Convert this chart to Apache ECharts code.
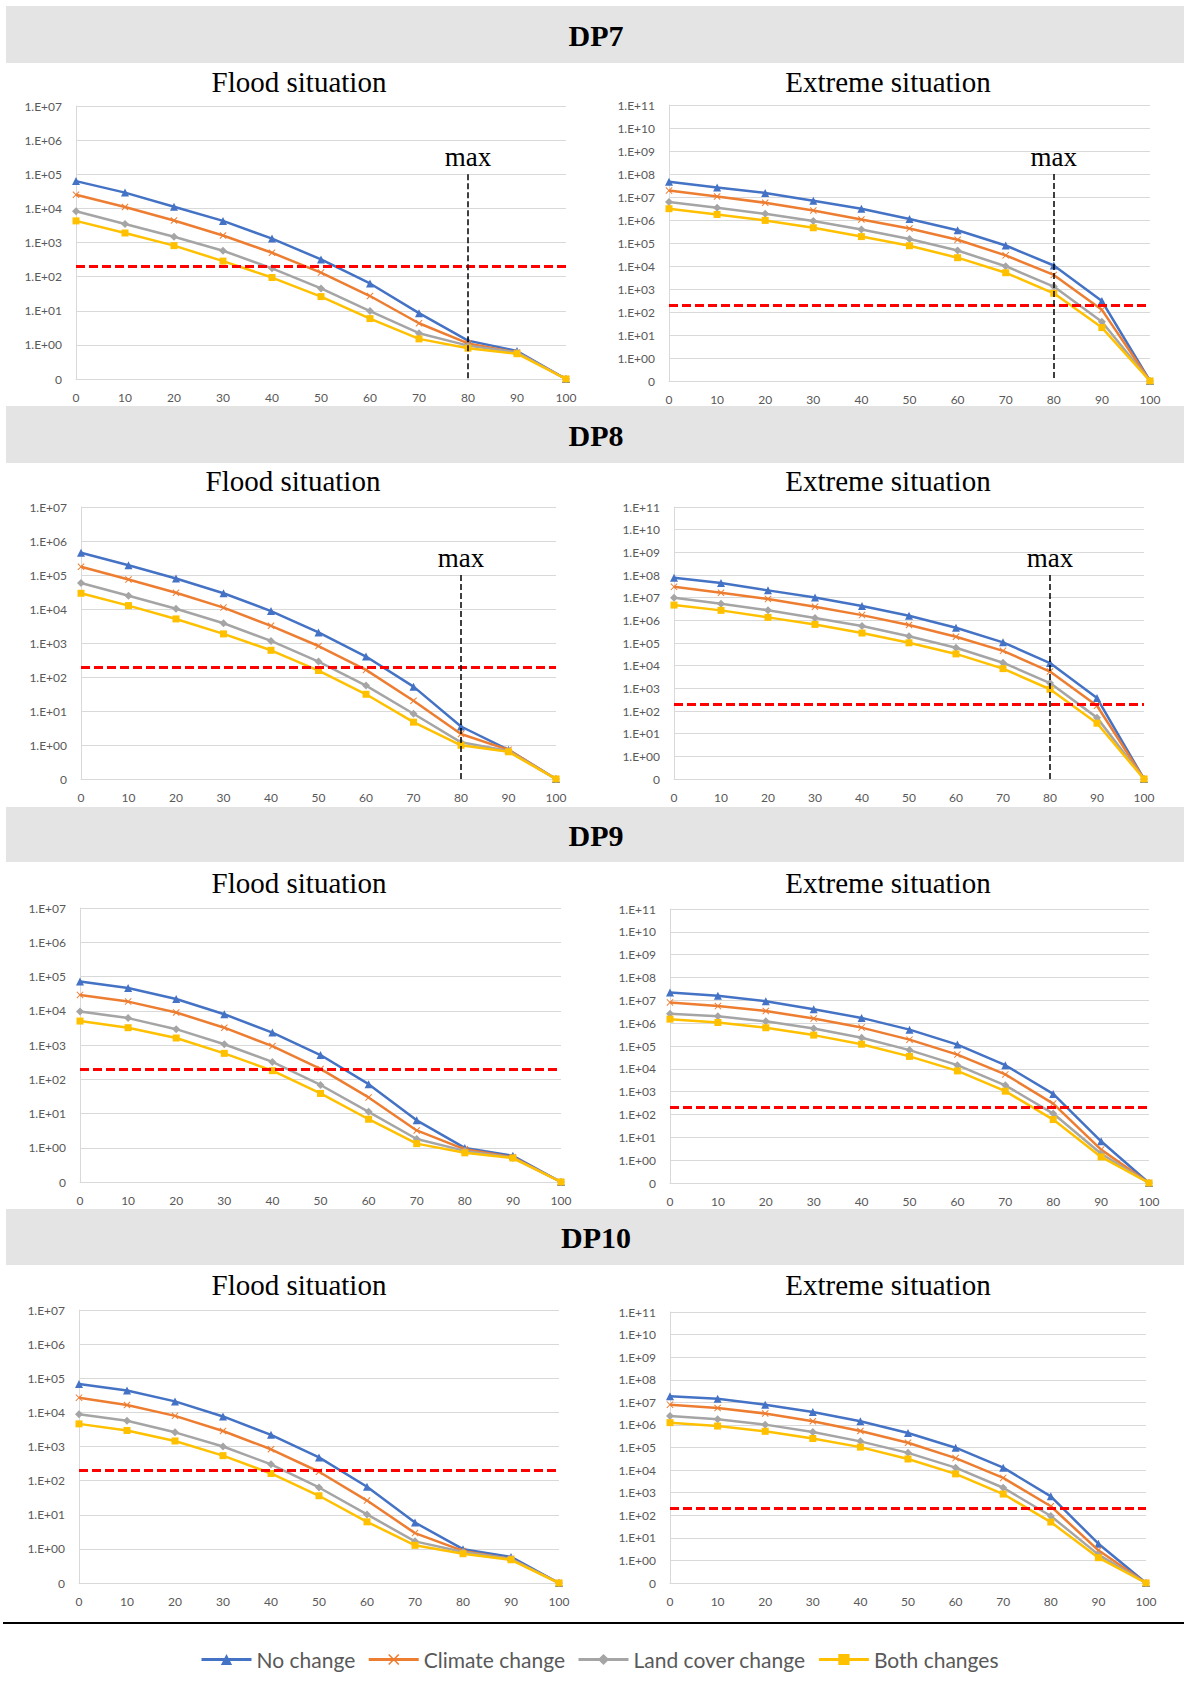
<!DOCTYPE html>
<html><head><meta charset="utf-8">
<script src="https://cdn.jsdelivr.net/npm/echarts@6/dist/echarts.min.js"></script>
<style>html,body{margin:0;padding:0;background:#fff}#c{width:1184px;height:1693px}</style>
</head><body><div id="c"></div>
<script>
// ---------- DATA ----------
const categories = ['0','10','20','30','40','50','60','70','80','90','100'];
const seriesNames = ['No change','Climate change','Land cover change','Both changes'];
const floodTickLabels = ['0','1.E+00','1.E+01','1.E+02','1.E+03','1.E+04','1.E+05','1.E+06','1.E+07'];
const extremeTickLabels = ['0','1.E+00','1.E+01','1.E+02','1.E+03','1.E+04','1.E+05','1.E+06','1.E+07','1.E+08','1.E+09','1.E+10','1.E+11'];
const threshold = 200;
const maxCategory = '80';

// DP7
const dp7FloodNo      = [6.3e4, 2.9e4, 1.12e4, 4.3e3, 1.3e3, 320, 63, 8.5, 1.33, 0.66, 0.1];
const dp7FloodClimate = [2.5e4, 1.1e4, 4.4e3, 1.6e3, 500, 131, 27, 4.3, 1.1, 0.6, 0.1];
const dp7FloodLand    = [8.2e3, 3.5e3, 1.48e3, 575, 175, 45, 9.8, 2.2, 0.95, 0.6, 0.1];
const dp7FloodBoth    = [4.3e3, 1.9e3, 810, 285, 94, 26, 5.9, 1.5, 0.8, 0.55, 0.1];
const dp7ExtremeNo      = [4.6e7, 2.6e7, 1.5e7, 6.8e6, 3.1e6, 1.1e6, 3.6e5, 7.8e4, 1.05e4, 300, 0.1];
const dp7ExtremeClimate = [1.9e7, 1.05e7, 5.6e6, 2.6e6, 1.05e6, 4.3e5, 1.38e5, 2.9e4, 4.1e3, 124, 0.1];
const dp7ExtremeLand    = [6.0e6, 3.4e6, 1.86e6, 9.0e5, 3.9e5, 1.5e5, 4.7e4, 9.8e3, 1.27e3, 38, 0.1];
const dp7ExtremeBoth    = [3.1e6, 1.74e6, 9.6e5, 4.6e5, 1.9e5, 7.6e4, 2.3e4, 5.1e3, 650, 21, 0.1];
// DP8
const dp8FloodNo      = [4.5e5, 1.94e5, 7.9e4, 2.9e4, 8.7e3, 2.05e3, 400, 52, 3.5, 0.72, 0.1];
const dp8FloodClimate = [1.74e5, 7.4e4, 3.0e4, 1.1e4, 3.2e3, 815, 162, 20, 2.1, 0.72, 0.1];
const dp8FloodLand    = [5.8e4, 2.45e4, 1.02e4, 3.8e3, 1.15e3, 284, 56, 8.3, 1.2, 0.67, 0.1];
const dp8FloodBoth    = [2.9e4, 1.26e4, 5.1e3, 1.85e3, 610, 155, 31, 4.7, 0.98, 0.63, 0.1];
const dp8ExtremeNo      = [7.6e7, 4.4e7, 2.1e7, 1.02e7, 4.3e6, 1.6e6, 4.7e5, 1.07e5, 1.3e4, 370, 0.1];
const dp8ExtremeClimate = [3.0e7, 1.65e7, 8.7e6, 4.0e6, 1.7e6, 6.2e5, 1.9e5, 4.5e4, 5.5e3, 170, 0.1];
const dp8ExtremeLand    = [1.0e7, 5.4e6, 2.8e6, 1.26e6, 5.6e5, 2.0e5, 6.2e4, 1.35e4, 1.7e3, 51, 0.1];
const dp8ExtremeBoth    = [4.7e6, 2.75e6, 1.35e6, 6.6e5, 2.75e5, 1.02e5, 3.3e4, 7.4e3, 910, 29, 0.1];
// DP9
const dp9FloodNo      = [7.1e4, 4.6e4, 2.2e4, 7.9e3, 2.3e3, 510, 72, 6.3, 0.99, 0.58, 0.1];
const dp9FloodClimate = [2.9e4, 1.85e4, 8.9e3, 3.2e3, 930, 200, 29.5, 3.2, 0.9, 0.53, 0.1];
const dp9FloodLand    = [9.5e3, 6.1e3, 2.9e3, 1.05e3, 320, 68, 11.2, 1.8, 0.81, 0.51, 0.1];
const dp9FloodBoth    = [5.0e3, 3.2e3, 1.6e3, 570, 178, 38.5, 6.8, 1.32, 0.71, 0.5, 0.1];
const dp9ExtremeNo      = [2.2e7, 1.6e7, 9.2e6, 4.1e6, 1.7e6, 5.2e5, 1.15e5, 1.44e4, 800, 6.7, 0.1];
const dp9ExtremeClimate = [8.1e6, 5.6e6, 3.4e6, 1.6e6, 6.4e5, 1.9e5, 4.2e4, 5.7e3, 300, 2.9, 0.1];
const dp9ExtremeLand    = [2.6e6, 2.0e6, 1.2e6, 5.9e5, 2.3e5, 6.6e4, 1.45e4, 1.9e3, 110, 1.9, 0.1];
const dp9ExtremeBoth    = [1.5e6, 1.07e6, 6.3e5, 3.0e5, 1.2e5, 3.5e4, 8.1e3, 1.05e3, 60, 1.38, 0.1];
// DP10
const dp10FloodNo      = [6.8e4, 4.4e4, 2.1e4, 7.6e3, 2.2e3, 480, 66, 5.9, 0.98, 0.58, 0.1];
const dp10FloodClimate = [2.7e4, 1.65e4, 7.9e3, 2.85e3, 830, 182, 26, 2.9, 0.87, 0.51, 0.1];
const dp10FloodLand    = [8.8e3, 5.7e3, 2.6e3, 1.0e3, 300, 63, 10.2, 1.66, 0.81, 0.51, 0.1];
const dp10FloodBoth    = [4.6e3, 2.95e3, 1.45e3, 540, 162, 36, 6.2, 1.27, 0.72, 0.48, 0.1];
const dp10ExtremeNo      = [1.85e7, 1.45e7, 7.9e6, 3.7e6, 1.45e6, 4.4e5, 9.8e4, 1.28e4, 690, 5.5, 0.1];
const dp10ExtremeClimate = [7.9e6, 5.6e6, 3.2e6, 1.45e6, 5.4e5, 1.63e5, 3.4e4, 4.5e3, 250, 2.8, 0.1];
const dp10ExtremeLand    = [2.5e6, 1.8e6, 1.03e6, 4.9e5, 1.87e5, 5.8e4, 1.28e4, 1.65e3, 93, 1.8, 0.1];
const dp10ExtremeBoth    = [1.26e6, 8.9e5, 5.2e5, 2.5e5, 1.04e5, 3.1e4, 6.8e3, 870, 50, 1.32, 0.1];

// ---------- LAYOUT ----------
const panels = [
  {dp:'DP7', sub:'Flood situation', ticks:floodTickLabels, hasMax:true, series:[dp7FloodNo,dp7FloodClimate,dp7FloodLand,dp7FloodBoth],
   grid:{left:76,top:106,width:490,height:273}, title:[299,82]},
  {dp:'DP7', sub:'Extreme situation', ticks:extremeTickLabels, hasMax:true, series:[dp7ExtremeNo,dp7ExtremeClimate,dp7ExtremeLand,dp7ExtremeBoth],
   grid:{left:669,top:105,width:481,height:276}, title:[888,82]},
  {dp:'DP8', sub:'Flood situation', ticks:floodTickLabels, hasMax:true, series:[dp8FloodNo,dp8FloodClimate,dp8FloodLand,dp8FloodBoth],
   grid:{left:81,top:507,width:475,height:272}, title:[293,481]},
  {dp:'DP8', sub:'Extreme situation', ticks:extremeTickLabels, hasMax:true, series:[dp8ExtremeNo,dp8ExtremeClimate,dp8ExtremeLand,dp8ExtremeBoth],
   grid:{left:674,top:507,width:470,height:272}, title:[888,481]},
  {dp:'DP9', sub:'Flood situation', ticks:floodTickLabels, hasMax:false, series:[dp9FloodNo,dp9FloodClimate,dp9FloodLand,dp9FloodBoth],
   grid:{left:80,top:908,width:481,height:274}, title:[299,883]},
  {dp:'DP9', sub:'Extreme situation', ticks:extremeTickLabels, hasMax:false, series:[dp9ExtremeNo,dp9ExtremeClimate,dp9ExtremeLand,dp9ExtremeBoth],
   grid:{left:670,top:909,width:479,height:274}, title:[888,883]},
  {dp:'DP10', sub:'Flood situation', ticks:floodTickLabels, hasMax:false, series:[dp10FloodNo,dp10FloodClimate,dp10FloodLand,dp10FloodBoth],
   grid:{left:79,top:1310,width:480,height:273}, title:[299,1285]},
  {dp:'DP10', sub:'Extreme situation', ticks:extremeTickLabels, hasMax:false, series:[dp10ExtremeNo,dp10ExtremeClimate,dp10ExtremeLand,dp10ExtremeBoth],
   grid:{left:670,top:1312,width:476,height:271}, title:[888,1285]}
];
const bands = [
  {label:'DP7', y:6, h:57, ty:35},
  {label:'DP8', y:406, h:57, ty:435},
  {label:'DP9', y:807, h:55, ty:835},
  {label:'DP10', y:1209, h:56, ty:1237}
];

const colors = ['#4472C4','#ED7D31','#A5A5A5','#FFC000'];
const xPath = 'path://M1,0 L5,4 L9,0 L10,1 L6,5 L10,9 L9,10 L5,6 L1,10 L0,9 L4,5 L0,1 Z';
const symbols = ['triangle', xPath, 'diamond', 'rect'];
const symbolSizes = [8, 7, 8, 7];
const tickFont = 'Lato';

const grids = [], xAxes = [], yAxes = [], series = [], graphics = [];

bands.forEach(b => {
  graphics.push({type:'rect', shape:{x:6, y:b.y, width:1178, height:b.h}, style:{fill:'#E4E4E4'}, z:0});
  graphics.push({type:'text', x:596, y:b.ty, style:{text:b.label, font:'bold 30px "Liberation Serif"', fill:'#000', align:'center', verticalAlign:'middle'}, z:1});
});
graphics.push({type:'line', shape:{x1:3, y1:1623, x2:1184, y2:1623}, style:{stroke:'#000', lineWidth:2}});

panels.forEach((p, i) => {
  const isFlood = p.ticks === floodTickLabels;
  grids.push(Object.assign({containLabel:false}, p.grid));
  graphics.push({type:'text', x:p.title[0], y:p.title[1], style:{text:p.sub, font:'29px "Liberation Serif"', fill:'#000', align:'center', verticalAlign:'middle'}});
  xAxes.push({
    type:'category', gridIndex:i, data:categories, boundaryGap:false,
    axisLine:{show:true, lineStyle:{color:'#D9D9D9', width:1}},
    axisTick:{show:false},
    axisLabel:{color:'#595959', fontSize:12, fontFamily:tickFont, margin:12},
    splitLine:{show:false}
  });
  const ticks = p.ticks;
  yAxes.push({
    type:'log', logBase:10, gridIndex:i, min:0.1, max: isFlood ? 1e7 : 1e11, interval:1,
    axisLine:{show:true, lineStyle:{color:'#D9D9D9', width:1}},
    axisTick:{show:false},
    axisLabel:{color:'#595959', fontSize:12, fontFamily:tickFont, margin:14,
      formatter: v => { const e = Math.round(Math.log10(v)); return ticks[e + 1] || ''; }},
    splitLine:{show:true, lineStyle:{color:'#D9D9D9', width:1}},
    minorTick:{show:false}, minorSplitLine:{show:false}
  });
  p.series.forEach((arr, k) => {
    const s = {
      type:'line', name:seriesNames[k], xAxisIndex:i, yAxisIndex:i, data:arr,
      symbol:symbols[k], symbolSize:symbolSizes[k], showSymbol:true,
      lineStyle:{color:colors[k], width:2.5}, itemStyle:{color:colors[k]},
      z:2 + k, animation:false, silent:true
    };
    if (k === 3) {
      const mlData = [
        {yAxis:threshold, lineStyle:{color:'#FF0000', width:3, type:[9,4]}, label:{show:false}}
      ];
      if (p.hasMax) {
        mlData.push([
          {coord:[maxCategory, isFlood ? 1e5 : 1e8], lineStyle:{color:'#000', width:1.5, type:[6,3]},
           label:{show:true, position:'start', formatter:'max', fontFamily:'Liberation Serif', fontSize:27, color:'#000', distance:4}},
          {coord:[maxCategory, 0.1]}
        ]);
      }
      s.markLine = {silent:true, symbol:'none', animation:false, data:mlData, z:10};
    }
    series.push(s);
  });
});

const chart = echarts.init(document.getElementById('c'), null, {renderer:'svg', width:1184, height:1693});
chart.setOption({
  animation:false,
  backgroundColor:'#fff',
  grid:grids, xAxis:xAxes, yAxis:yAxes, series:series, graphic:graphics,
  legend:{
    data:seriesNames, left:200, top:1649, padding:0, itemWidth:50, itemHeight:14, itemGap:12,
    textStyle:{fontFamily:'Lato', fontSize:21, color:'#595959'},
    lineStyle:{width:3}
  }
});
</script></body></html>
